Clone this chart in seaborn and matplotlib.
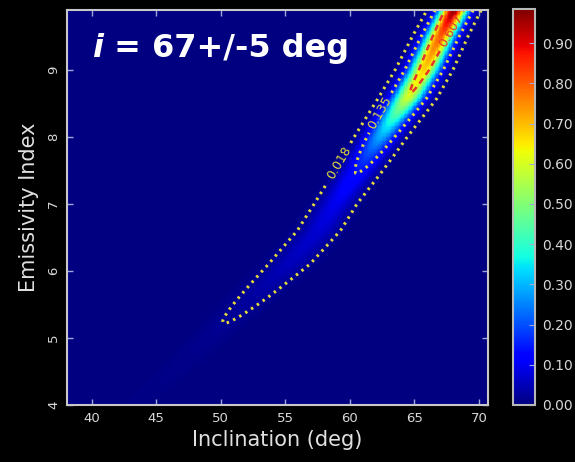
import numpy as np
import pandas as pd
import matplotlib
matplotlib.use("Agg")
import matplotlib.pyplot as plt
import seaborn as sns

# ---- values ----
ridge_y = [4.0, 4.6, 5.22, 5.6, 6.1, 6.6, 7.0, 7.5, 8.0, 8.57, 9.0, 9.5, 9.9]
ridge_x = [43.5, 47.0, 50.3, 52.5, 55.3, 57.6, 58.9, 60.7, 62.4, 64.45, 65.75, 67.0, 68.1]
ridge_peak = [0.006, 0.010, 0.018, 0.03, 0.052, 0.072, 0.098, 0.14, 0.29, 0.59, 0.68, 0.80, 0.985]
ridge_width = [1.0, 1.05, 1.1, 1.1, 1.1, 1.0, 0.9, 0.92, 0.87, 0.86, 0.83, 0.78, 0.74]
profile_power = 2.0
outer_levels = [0.018, 0.135]
inner_levels = [0.607]
x_ticks = [40, 45, 50, 55, 60, 65, 70]
y_ticks = [4, 5, 6, 7, 8, 9]
cbar_ticks = [0.0, 0.1, 0.2, 0.3, 0.4, 0.5, 0.6, 0.7, 0.8, 0.9]
x_range = (38.1, 70.7)
y_range = (4.0, 9.9)
vmax = 0.985
title_i = "i"
title_rest = " = 67+/-5 deg"
x_label = "Inclination (deg)"
y_label = "Emissivity Index"

# ---- grid ----
dx, dy = 0.1, 0.02
nx = int(round((x_range[1] - x_range[0]) / dx))
ny = int(round((y_range[1] - y_range[0]) / dy))
xc = x_range[0] + (np.arange(nx) + 0.5) * dx
yc = y_range[1] - (np.arange(ny) + 0.5) * dy  # rows top -> bottom
cx = np.interp(yc, ridge_y, ridge_x)
amp = np.exp(np.interp(yc, ridge_y, np.log(ridge_peak)))
wid = np.interp(yc, ridge_y, ridge_width)
dist = np.abs(xc[None, :] - cx[:, None]) / wid[:, None]
Z = amp[:, None] * np.exp(-0.5 * dist ** profile_power)
df = pd.DataFrame(Z, index=np.round(yc, 3), columns=np.round(xc, 2))

def to_ix(x):
    return (np.asarray(x, float) - x_range[0]) / dx

def to_iy(y):
    return (y_range[1] - np.asarray(y, float)) / dy

plt.rcParams["font.family"] = ["DejaVu Sans"]
fig = plt.figure(figsize=(5.75, 4.62), dpi=100, facecolor="black")
ax = fig.add_axes([67 / 575, 1 - 405 / 462, (488 - 67) / 575, (405 - 9.5) / 462])
cax = fig.add_axes([513 / 575, 1 - 405 / 462, 22 / 575, (405 - 9) / 462])

sns.heatmap(df, cmap="jet", vmin=0, vmax=vmax, ax=ax, cbar_ax=cax,
            xticklabels=False, yticklabels=False, rasterized=True)

Xi = np.arange(nx) + 0.5
Yi = np.arange(ny) + 0.5
cs1 = ax.contour(Xi, Yi, Z, levels=outer_levels, colors="#e6dc3c",
                 linewidths=2.2, linestyles=[(0, (0.8, 1.5))])
cs2 = ax.contour(Xi, Yi, Z, levels=inner_levels, colors="#e8342c",
                 linewidths=1.8, linestyles=[(0, (2.5, 1.8))])
ax.clabel(cs1, fmt="%.3f", fontsize=9,
          manual=[(to_ix(59.3), to_iy(7.6)), (to_ix(62.9), to_iy(8.3))])
ax.clabel(cs2, fmt="%.3f", fontsize=9,
          manual=[(to_ix(68.5), to_iy(9.5))])

ax.set_xticks(to_ix(x_ticks))
ax.set_xticklabels([str(t) for t in x_ticks])
ax.set_yticks(to_iy(y_ticks))
ax.set_yticklabels([str(t) for t in y_ticks], rotation=90, va="center")
ax.tick_params(direction="in", length=4, width=1, color="#9fa8d8",
               labelcolor="#d8d8d8", labelsize=9.5, top=True, right=True, pad=5)
for s in ax.spines.values():
    s.set_visible(True)
    s.set_color("#c8c8c8")
    s.set_linewidth(1.5)
ax.set_xlabel(x_label, color="#e0e0e0", fontsize=15, labelpad=4)
ax.set_ylabel(y_label, color="#e0e0e0", fontsize=15, labelpad=6)

cb = ax.collections[0].colorbar
cb.set_ticks(cbar_ticks)
cb.set_ticklabels([f"{t:.2f}" for t in cbar_ticks])
cb.outline.set_visible(True)
cb.outline.set_edgecolor("#b8b8b8")
cb.outline.set_linewidth(1.5)
cax.tick_params(direction="in", length=4, color="#9fa8d8", labelcolor="#d8d8d8",
                labelsize=10, pad=5)

t1 = fig.text(92 / 575, 1 - 57 / 462, title_i, color="white", fontsize=23,
              fontweight="bold", fontstyle="italic", family="DejaVu Sans",
              va="baseline")
ax.annotate(title_rest, xy=(1, 0), xycoords=t1, va="bottom", ha="left",
            color="white", fontsize=23, fontweight="bold", family="DejaVu Sans",
            annotation_clip=False)

fig.savefig("out.png", dpi=100, facecolor="black")
